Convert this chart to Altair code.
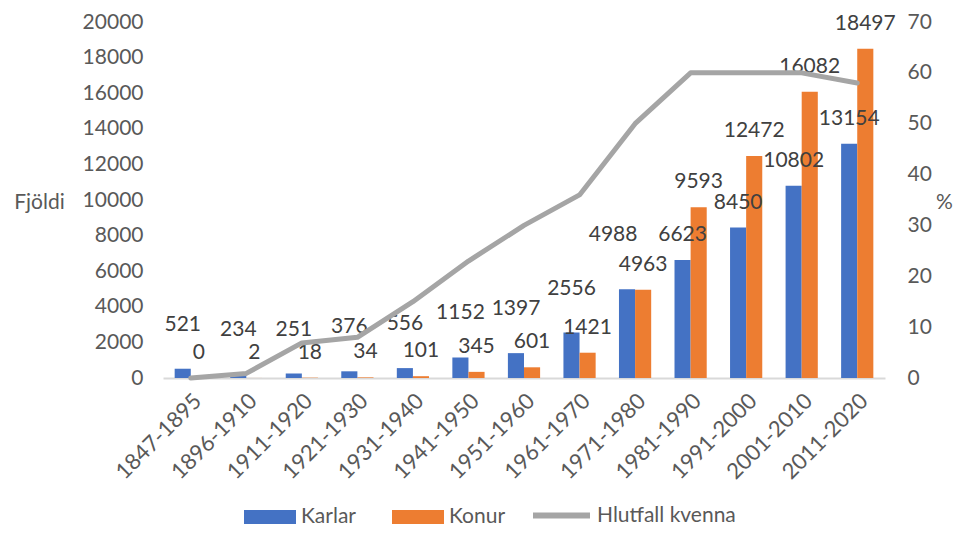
import altair as alt
import pandas as pd

periods = ["1847-1895", "1896-1910", "1911-1920", "1921-1930", "1931-1940",
           "1941-1950", "1951-1960", "1961-1970", "1971-1980", "1981-1990",
           "1991-2000", "2001-2010", "2011-2020"]
karlar = [521, 234, 251, 376, 556, 1152, 1397, 2556, 4988, 6623, 8450, 10802, 13154]
konur = [0, 2, 18, 34, 101, 345, 601, 1421, 4963, 9593, 12472, 16082, 18497]
hlutfall = [0, 0.9, 6.9, 8, 15, 23, 30, 36, 50, 60, 60, 60, 58]
bar_series = ["Karlar", "Konur"]
bar_colors = ["#4472C4", "#ED7D31"]
line_series = ["Hlutfall kvenna"]
line_colors = ["#A5A5A5"]
left_ticks = [0, 2000, 4000, 6000, 8000, 10000, 12000, 14000, 16000, 18000, 20000]
right_ticks = [0, 10, 20, 30, 40, 50, 60, 70]

df = pd.DataFrame({"period": periods, "Karlar": karlar, "Konur": konur, "Hlutfall": hlutfall})

FONT = "Lato"
FS = 21
AX = "#595959"
LAB = "#404040"

x_enc = alt.X(
    "period:N", sort=periods, title=None,
    scale=alt.Scale(paddingInner=0.42, paddingOuter=0.21),
    axis=alt.Axis(labelAngle=-45, labelAlign="right", labelBaseline="top",
                  labelPadding=12, ticks=False, domainColor="#D9D9D9", domainWidth=2,
                  labelFont=FONT, labelFontSize=22, labelColor=AX, grid=False),
)

left_axis = alt.Axis(values=left_ticks, format="d", domain=False, ticks=False, grid=False,
                     labelFont=FONT, labelFontSize=FS, labelColor=AX, labelPadding=20,
                     title="Fjöldi", titleAngle=0, titleFont=FONT, titleFontSize=FS,
                     titleFontWeight="normal", titleColor=AX, titleX=-124, titleY=180,
                     titleAlign="center", titleBaseline="middle")
left_scale = alt.Scale(domain=[0, 20000], nice=False)

right_axis = alt.Axis(values=right_ticks, format="d", domain=False, ticks=False, grid=False,
                      orient="right",
                      labelFont=FONT, labelFontSize=FS, labelColor=AX, labelPadding=22,
                      title="%", titleAngle=0, titleFont=FONT, titleFontSize=FS,
                      titleFontWeight="normal", titleColor=AX, titleX=59, titleY=180,
                      titleAlign="center", titleBaseline="middle")

bar_legend = alt.Legend(
    title=None, orient="none", legendX=81, legendY=469, direction="horizontal",
    symbolType="M-1,-0.27H1V0.27H-1Z", symbolSize=2704, symbolStrokeWidth=0,
    symbolOpacity=1,
    labelFont=FONT, labelFontSize=FS, labelColor=AX, columnPadding=36, labelOffset=5,
)
line_legend = alt.Legend(
    title=None, orient="none", legendX=367, legendY=462, direction="horizontal",
    symbolType="stroke", symbolSize=3249, symbolStrokeWidth=6,
    labelFont=FONT, labelFontSize=FS, labelColor=AX, labelOffset=4,
)

base = alt.Chart(df)

bars = base.transform_fold(["Karlar", "Konur"], as_=["kyn", "fjoldi"]).mark_bar().encode(
    x=x_enc,
    xOffset=alt.XOffset("kyn:N", sort=bar_series),
    y=alt.Y("fjoldi:Q", scale=left_scale, axis=left_axis),
    fill=alt.Fill("kyn:N", scale=alt.Scale(domain=bar_series, range=bar_colors), legend=bar_legend),
)

txt = dict(font=FONT, fontSize=FS, color=LAB, baseline="middle", align="center")
y_k = alt.Y("Karlar:Q", scale=left_scale, axis=left_axis)
t_k = alt.Text("Karlar:Q", format="d")

lab_k_low = base.transform_filter("datum.Konur - datum.Karlar >= 1000").mark_text(
    dx=-8, dy=-25, **txt).encode(x=x_enc, y=y_k, text=t_k)
lab_k_high = base.transform_filter(
    "datum.Konur - datum.Karlar < 1000 && abs(datum.Konur - datum.Karlar) >= 100").mark_text(
    dx=-8, dy=-44, **txt).encode(x=x_enc, y=y_k, text=t_k)
lab_k_tie = base.transform_filter("abs(datum.Konur - datum.Karlar) < 100").mark_text(
    dx=-22, dy=-54, **txt).encode(x=x_enc, y=y_k, text=t_k)
lab_f = base.mark_text(dx=8, dy=-25, **txt).encode(
    x=x_enc, y=alt.Y("Konur:Q", scale=left_scale, axis=left_axis),
    text=alt.Text("Konur:Q", format="d"))

left = alt.layer(bars, lab_k_low, lab_k_high, lab_k_tie, lab_f)

line = base.transform_calculate(kyn="'Hlutfall kvenna'").mark_line(
    strokeWidth=5, strokeJoin="round", strokeCap="round").encode(
    x=x_enc,
    y=alt.Y("Hlutfall:Q", scale=alt.Scale(domain=[0, 70], nice=False), axis=right_axis),
    stroke=alt.Stroke("kyn:N", scale=alt.Scale(domain=line_series, range=line_colors), legend=line_legend),
)

chart = alt.layer(left, line).resolve_scale(y="independent").properties(
    width=722, height=356,
    padding={"left": 155, "top": 14, "right": 68, "bottom": 151},
    autosize=alt.AutoSizeParams(type="none"),
).configure_view(stroke=None)

chart.save("out.html", embed_options={"renderer": "svg", "actions": False})
